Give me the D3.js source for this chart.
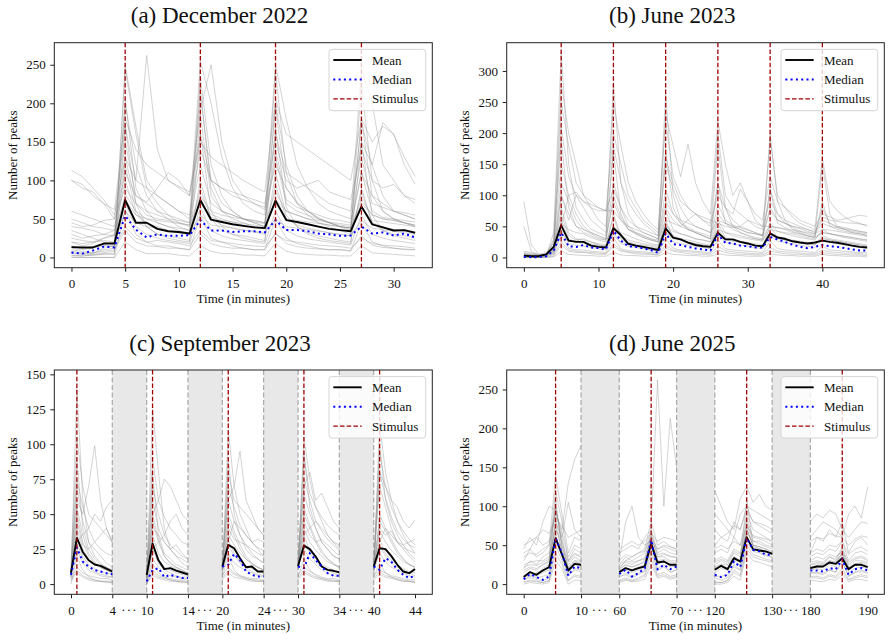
<!DOCTYPE html>
<html>
<head>
<meta charset="utf-8">
<script src="https://cdn.jsdelivr.net/npm/d3@7"></script>
<style>
body { margin: 0; background: #fff; }
svg text { font-family: "Liberation Serif", "DejaVu Serif", serif; fill: #111; }
</style>
</head>
<body>
<div id="chart"></div>
<script>
// ---------- data ----------
// (a) December 2022, one value per minute
const minutesA = d3.range(0, 33);
const stimA = [5, 12, 19, 27];
const meanA = [13.4,13,13,18,18, 74.5,45,45,37,34,33,31, 74.5,49,46,43,41,39,38, 73.7,48.5,46,43,40,37,35.5,34, 66,43,39,35,35.5,32];
const medianA = [6.5,5,9,14,13, 54,36,26,30,28,28,29, 48.5,35,35,33,34,34,32.5, 48.5,35.5,35.5,34,31,30,28,28.5, 40,31,32.5,28.5,31,26];
const tracesA = [
  [[3,2,4,6,8],[245,160,90,70,55,45,40],[235,120,80,60,50,45,40],[240,110,70,55,45,40,35,30],[225,100,60,50,45,40]],
  [[100,95,80,70,62],[180,140,120,110,100,92,85],[150,130,120,110,100,92,85],[205,160,150,140,130,120,110,100],[180,150,170,160,120,95]],
  [[113,105,90,75,55],[130,100,262,140,100,90,80],[190,250,150,100,80,70,62],[120,90,72,60,52,45,40,38],[110,80,70,60,55,50]],
  [[40,38,35,30,28],[82,60,50,45,40,38,35],[70,56,50,46,42,40,38],[75,60,55,50,45,42,40,38],[70,56,50,48,45,42]],
  [[0,0,0,0,0],[62,30,20,15,15,12,10],[55,25,20,15,12,10,10],[50,25,18,15,12,10,10,8],[45,20,15,12,10,10]],
  [[20,18,20,22,20],[205,90,60,45,40,35,30],[185,80,60,50,45,40,38],[195,90,70,60,50,45,40,38],[175,120,80,60,55,50]],
  [[60,55,50,45,40],[110,80,72,90,110,100,80],[160,100,90,85,80,75,70],[150,100,90,95,100,85,80,75],[140,100,90,95,80,75]],
  [[10,8,6,10,12],[40,25,20,22,20,18,15],[35,22,20,18,16,15,14],[30,22,20,18,16,15,14,12],[25,18,16,15,14,12]],
  [[30,25,28,30,35],[150,80,70,60,55,50,45],[120,70,60,55,50,48,45],[140,75,65,60,55,50,48,45],[130,70,65,60,58,55]],
  [[5,4,3,5,4],[250,170,100,80,70,60,50],[255,200,130,90,70,60,55],[250,180,120,90,70,60,55,50],[245,200,120,100,80,70]],
  [[45,40,42,48,50],[90,70,60,55,50,48,45],[80,60,55,52,50,48,45],[85,60,55,50,48,45,42,40],[75,55,50,48,45,42]],
  [[0,0,0,0,0],[20,10,5,5,5,3,2],[15,8,5,5,3,3,2],[18,8,5,4,3,3,2,2],[15,6,5,4,3,2]],
  [[100,90,85,70,50],[170,100,90,80,70,60,55],[140,100,90,80,75,70,65],[160,110,100,90,80,70,65,60],[150,120,175,160,130,105]],
  [[15,12,14,16,15],[120,60,40,30,28,25,22],[100,50,35,30,28,25,22],[110,55,40,32,28,25,22,20],[90,45,35,30,28,25]],
  [[8,6,5,12,15],[200,120,80,60,50,40,35],[210,100,70,60,50,45,40],[200,120,80,60,50,45,40,35],[180,80,60,50,45,40]],
  [[35,30,25,20,18],[60,45,40,38,35,32,30],[55,42,40,38,36,34,32],[50,40,38,36,34,32,30,28],[48,38,36,34,32,30]],
  [[12,10,12,15,14],[70,40,30,25,22,20,18],[65,35,28,24,22,20,18],[60,35,28,24,22,20,18,16],[55,30,25,22,20,18]],
  [[25,22,20,25,30],[100,55,45,40,35,32,30],[90,50,42,38,35,33,30],[95,50,42,38,35,32,30,28],[85,45,40,36,34,32]],
  [[2,2,3,4,5],[170,70,40,30,25,22,20],[160,60,40,30,25,22,20],[170,65,40,30,25,22,20,18],[150,55,35,28,25,22]],
  [[50,45,40,38,35],[75,55,50,48,46,44,42],[70,52,48,46,44,42,40],[70,50,48,46,44,42,40,38],[65,48,46,44,42,40]],
  [[6,5,6,8,10],[35,20,15,14,12,12,10],[30,18,14,12,12,10,10],[32,18,14,12,11,10,10,9],[28,16,13,12,11,10]],
  [[20,15,18,25,28],[130,70,55,50,48,45,42],[220,90,60,55,50,46,44],[130,70,60,55,50,46,44,42],[110,60,52,50,48,46]]
].map(t => t.flat());

// (b) June 2023
const minutesB = d3.range(0, 47);
const stimB = [5, 12, 19, 26, 33, 40];
const meanB = [3,2,2,5,17, 51.5,27,25,25,19,17,16, 47,36,22,19,17,14.5,12, 47,32,29,24,20,18,17, 40,29,29,25,22.5,19,18, 38.6,32,30,26,24,22.5,24, 27,25,23.6,21.5,19,17,16];
const medianB = [1,0.5,0.5,2,11, 40,18,17,20,16,15,13, 43,27,18,17,14.5,12,7.5, 38.6,21.5,20,17,14.5,13,11, 36.5,23.6,22.5,19,18,16,16, 33,29,25,20.4,17,15,17, 20,18,17,15,13,11,11];
const tracesB = [
  [[2,1,1,3,40],[330,150,80,60,45,40,35],[280,120,70,50,40,35,30],[265,100,60,45,40,35,30],[180,80,50,40,35,30,28],[200,90,60,45,40,35,32],[150,70,50,45,40,38,35]],
  [[90,20,5,5,10],[100,60,100,90,80,75,75],[110,80,60,50,45,40,35],[90,70,60,55,50,45,40],[60,55,50,45,40,38,35],[50,48,45,40,38,35,33],[40,38,36,34,32,30,28]],
  [[50,10,3,3,15],[250,180,120,100,90,80,75],[200,150,100,80,60,50,40],[230,180,130,182,120,90,70],[220,150,100,120,90,70,60],[130,90,80,70,60,55,50],[70,65,60,62,65,68,66]],
  [[5,3,2,2,8],[60,30,25,22,20,18,16],[50,30,22,20,18,16,14],[55,35,30,28,25,22,20],[45,30,28,26,24,22,20],[40,32,30,28,26,24,22],[30,28,26,24,22,20,18]],
  [[0,0,0,0,2],[20,10,8,8,6,5,5],[18,10,8,6,5,5,4],[15,10,8,6,5,5,4],[12,8,6,5,5,4,4],[10,8,6,5,5,4,4],[8,6,5,5,4,4,3]],
  [[8,6,5,6,25],[150,100,70,50,40,35,30],[120,80,50,40,35,30,25],[160,120,90,80,70,60,55],[100,80,70,110,90,60,50],[90,70,60,55,50,45,40],[60,55,50,48,45,42,40]],
  [[3,2,2,5,20],[210,130,100,80,60,50,40],[180,120,90,70,55,45,35],[150,110,80,60,50,45,40],[120,80,60,50,45,40,35],[110,70,55,48,42,38,35],[80,55,48,45,42,40,38]],
  [[10,8,5,4,6],[40,25,28,30,25,20,18],[35,25,20,18,15,12,10],[40,30,28,25,22,20,18],[35,28,26,24,22,20,18],[38,30,28,26,24,22,20],[32,28,26,24,22,20,18]],
  [[1,1,1,2,15],[100,70,50,45,40,35,30],[90,60,45,40,35,30,28],[80,60,50,45,40,35,30],[70,55,50,45,40,38,35],[75,60,55,50,48,45,42],[65,60,58,56,55,54,52]],
  [[4,2,2,4,30],[280,200,150,100,80,60,50],[250,180,120,90,70,55,45],[220,130,100,80,70,60,50],[200,100,80,70,60,50,45],[190,100,80,65,55,50,45],[160,90,75,65,58,55,50]],
  [[2,1,1,3,10],[80,40,30,28,25,22,20],[70,35,28,25,22,20,18],[75,45,38,35,30,28,25],[60,40,35,32,30,28,26],[55,42,38,35,32,30,28],[45,38,35,32,30,28,26]],
  [[6,5,4,8,12],[50,100,105,90,85,80,75],[75,60,50,45,40,35,30],[60,55,50,60,70,65,60],[55,50,48,50,60,55,50],[50,48,46,44,42,40,38],[45,44,42,40,38,36,34]],
  [[0,0,0,0,1],[10,5,4,3,3,2,2],[8,4,3,3,2,2,2],[8,5,4,3,3,2,2],[6,4,3,3,2,2,2],[6,4,3,3,2,2,2],[5,3,3,2,2,2,1]],
  [[5,4,3,5,18],[120,90,60,45,38,32,28],[100,65,45,38,32,28,25],[110,70,55,48,42,38,34],[85,60,52,48,44,40,36],[80,60,55,50,46,42,38],[55,50,48,46,44,42,40]],
  [[3,2,2,4,15],[70,35,28,25,22,20,18],[65,32,25,22,20,18,16],[60,32,28,25,22,20,18],[55,32,28,25,22,20,18],[50,32,28,26,24,22,20],[35,30,28,26,24,22,20]],
  [[1,1,1,2,6],[35,15,12,12,10,9,8],[32,14,11,10,9,8,7],[30,15,12,11,10,9,8],[28,14,12,11,10,9,8],[26,14,12,11,10,9,8],[18,12,11,10,9,8,8]],
  [[2,1,1,3,25],[190,80,50,40,35,30,28],[170,70,45,38,32,28,25],[175,80,55,45,40,35,30],[120,55,45,40,36,32,30],[110,55,48,42,38,35,32],[90,50,45,42,40,38,36]],
  [[4,3,3,5,12],[55,45,40,38,32,28,25],[50,40,35,30,26,22,20],[50,42,38,34,30,28,25],[45,40,38,35,32,30,28],[45,42,40,38,35,32,30],[40,38,36,34,32,30,28]],
  [[0,0,0,1,4],[25,12,10,9,8,7,6],[22,12,9,8,7,6,5],[20,12,10,9,8,7,6],[18,11,9,8,7,6,6],[16,10,9,8,7,6,6],[12,9,8,7,7,6,5]],
  [[6,4,3,4,10],[45,22,20,18,16,14,12],[40,22,18,16,14,12,10],[42,25,22,20,18,16,14],[38,24,22,20,18,16,14],[35,26,24,22,20,18,16],[28,24,22,20,18,16,15]]
].map(t => t.flat());

// (c) September 2023, five recorded windows of 4 minutes
const segStartsC = [0, 10, 20, 30, 40];
const segStepsC = [0, 0.57, 1.14, 1.71, 2.29, 2.86, 3.43, 4];
const stimC = [0.57, 10.57, 20.57, 30.57, 40.57];
const meanC = [[8,33,23,17,14,13,11,9],[6.6,29,17,10.7,11.4,9.7,8.3,7],[12.6,28,25.6,18.5,12,12.6,9,9],[13,27.5,25,19.7,12.6,10.2,9.5,8.5],[12.6,25.6,25,20,13.8,9,7.8,10.7]];
const medianC = [[6.6,26,16,12.5,10,9,7.8,7],[2,10,11.4,5,6.6,5.4,4.3,4.3],[12.6,13.8,21.6,17.3,9,6.6,5.4,5.4],[12.6,11.4,22,17.3,12.6,7.8,6,6],[12.6,10.2,18.5,16,10.2,6.6,4.3,6]];
const tracesC = [
  [[5,140,60,30,20,15,12,10],[3,125,80,40,25,20,15,12],[8,110,70,50,40,30,25,20],[10,105,75,55,45,35,30,25],[8,115,80,60,45,35,28,22]],
  [[10,60,50,70,99,60,40,30],[5,50,60,75,70,60,50,45],[15,60,70,95,60,50,40,35],[12,70,80,60,65,55,45,40],[15,80,70,60,55,45,40,46]],
  [[0,20,10,5,3,2,2,1],[0,15,8,5,3,2,2,1],[5,20,10,6,4,3,2,2],[5,18,10,6,4,3,2,2],[5,15,8,5,3,2,2,1]],
  [[8,50,30,20,15,12,10,8],[5,45,30,20,15,12,10,8],[12,45,35,25,18,14,12,10],[14,50,40,30,22,18,15,12],[12,45,38,30,22,18,14,12]],
  [[5,90,40,25,18,14,12,10],[2,80,35,22,18,14,12,10],[10,90,50,35,25,20,18,15],[12,95,55,40,30,25,20,18],[10,100,60,45,35,28,22,18]],
  [[10,30,35,40,50,45,55,60],[5,25,30,35,45,50,40,35],[12,30,45,40,35,30,32,30],[15,35,40,45,40,35,30,28],[12,30,40,35,30,28,30,32]],
  [[3,8,5,3,2,2,1,1],[1,6,4,3,2,2,1,1],[3,8,5,4,3,2,2,2],[3,8,6,4,3,2,2,2],[3,7,5,4,3,2,2,1]],
  [[12,70,45,30,25,20,15,12],[8,60,40,30,25,20,18,15],[15,60,45,35,28,22,18,15],[18,65,50,40,30,25,20,18],[15,70,55,40,30,25,20,16]],
  [[6,25,15,10,8,6,5,5],[2,18,12,8,6,5,4,4],[10,22,15,12,10,8,6,5],[12,25,18,14,10,8,6,5],[10,22,16,12,10,8,6,5]],
  [[15,105,70,50,45,40,35,30],[10,90,60,48,40,35,30,28],[14,80,60,55,50,45,40,35],[16,90,65,55,48,42,38,35],[14,95,70,55,45,38,32,28]],
  [[4,12,8,6,5,4,4,3],[2,10,6,5,4,3,3,3],[6,12,8,6,5,4,4,3],[6,12,9,7,5,4,4,3],[6,10,8,6,5,4,3,3]],
  [[8,40,25,18,14,12,10,9],[4,35,22,16,13,11,9,8],[12,35,28,22,18,15,12,10],[14,40,30,24,20,16,14,12],[12,38,30,24,20,16,14,12]],
  [[6,55,35,22,16,12,10,8],[3,50,32,20,15,12,10,8],[10,50,38,28,20,15,12,10],[12,55,42,32,24,18,14,12],[10,50,40,32,24,18,14,12]],
  [[4,30,18,12,9,7,6,5],[1,25,15,10,8,6,5,5],[8,28,20,15,12,9,7,6],[10,30,22,16,12,10,8,6],[8,28,20,15,12,10,8,6]],
  [[10,75,55,40,30,25,22,20],[6,70,50,35,28,24,20,18],[12,70,55,42,35,30,26,24],[14,75,60,45,38,32,28,24],[12,80,62,48,38,32,28,26]],
  [[2,10,6,4,3,2,2,2],[0,8,5,4,3,2,2,2],[4,10,7,5,4,3,3,2],[4,10,7,5,4,3,3,2],[4,9,6,5,4,3,2,2]],
  [[7,45,28,25,30,35,40,30],[4,40,35,30,25,28,22,18],[10,40,32,30,28,25,22,20],[12,45,35,30,32,28,24,20],[10,40,35,38,30,26,24,22]],
  [[9,35,20,14,11,9,8,7],[5,30,18,12,10,8,7,6],[11,32,22,16,13,11,9,8],[13,35,24,18,14,12,10,8],[11,32,22,17,14,11,9,8]]
];

// (d) June 2025, four recorded windows of 10 minutes
const segStartsD = [0, 60, 120, 180];
const segStepsD = [0, 1.11, 2.22, 3.33, 4.44, 5.56, 6.67, 7.78, 8.89, 10];
const stimD = [5.56, 65.56, 125.56, 185.56];
const meanD = [[9,15.4,12,17.5,21.8,59,38,17.5,26,24.8],[15.4,20.5,17.5,20.5,22.6,51.7,27.8,29,24.8,24.8],[18.4,23.5,19.2,33.3,29,60.3,44.9,43.2,41.9,38.9],[20.5,22.6,22.6,27.8,26,33.3,19.2,24.8,24.8,21.8]];
const medianD = [[6.4,13,9,5.5,9.8,59,40,10.7,22.6,20.5],[13,18.4,9.8,14,20.5,56.8,19.2,24.8,19.2,22.6],[12,9,12,29,21.8,59,44,42,37.6,37.6],[17.5,17.5,16.2,20.5,19.2,32,12,19.2,20.5,17.5]];
const tracesD = [
  [[40,45,60,50,55,90,70,130,160,178],[40,45,50,45,60,70,262,100,213,150],[120,100,80,70,110,125,105,115,100,95],[60,70,80,75,70,60,90,100,85,125]],
  [[10,15,12,20,25,100,50,20,30,25],[15,20,18,22,25,60,30,28,25,24],[20,25,20,35,30,110,50,45,42,40],[20,22,22,30,28,40,20,25,25,22]],
  [[5,8,6,4,8,60,40,10,20,18],[10,12,8,12,18,50,20,25,15,18],[8,5,8,25,18,60,45,42,38,35],[15,15,14,18,16,30,10,16,18,15]],
  [[20,30,25,35,40,120,80,30,45,40],[25,35,30,35,40,70,40,45,40,38],[40,45,40,60,50,90,70,65,60,55],[35,40,38,45,42,55,30,40,42,38]],
  [[0,2,1,0,2,30,20,0,5,5],[2,5,3,4,6,25,8,10,6,8],[0,0,2,10,5,40,30,28,25,22],[5,4,3,6,5,12,3,6,6,4]],
  [[30,45,35,40,50,140,90,40,60,55],[20,30,35,40,45,80,50,55,48,45],[50,60,55,80,70,100,80,75,70,65],[40,60,55,70,60,80,40,55,60,50]],
  [[8,12,10,15,18,80,60,15,25,22],[12,18,15,18,20,55,25,30,22,24],[15,20,18,30,25,70,50,48,45,40],[18,20,18,25,22,35,15,20,22,20]],
  [[15,20,18,25,30,110,45,25,35,30],[18,25,22,25,30,65,35,35,30,30],[25,30,25,40,35,80,55,52,48,45],[25,28,26,35,30,45,22,30,30,28]],
  [[45,60,50,80,100,95,60,105,70,60],[30,80,100,60,50,55,45,50,48,45],[90,80,70,60,90,100,95,90,85,80],[80,90,85,95,90,70,60,70,80,78]],
  [[3,5,4,2,5,50,30,5,12,10],[5,8,5,8,12,40,12,15,10,12],[3,2,5,18,12,50,38,35,32,30],[10,10,8,12,10,20,6,10,12,10]],
  [[25,28,30,30,35,70,55,30,40,35],[22,28,25,30,32,48,35,38,35,34],[30,35,30,45,40,65,55,55,50,48],[30,35,32,38,35,42,28,34,36,32]],
  [[12,10,15,18,22,85,40,20,28,28],[14,20,18,20,24,58,28,30,25,26],[18,22,20,32,28,75,48,46,42,40],[22,24,22,28,26,38,18,24,26,24]],
  [[18,22,20,25,28,75,42,22,30,30],[20,24,22,25,28,52,30,32,28,28],[22,26,24,35,30,70,50,48,45,42],[25,26,25,30,28,40,20,26,28,26]],
  [[6,10,8,10,12,65,35,12,18,16],[8,14,10,14,16,45,18,22,16,18],[10,10,12,22,18,55,42,40,36,34],[14,14,12,18,15,28,10,15,16,14]],
  [[35,40,38,45,50,95,65,35,50,45],[30,38,35,40,42,62,45,48,45,42],[45,50,45,55,50,75,62,60,58,55],[40,45,42,50,48,55,38,45,48,42]],
  [[2,4,3,2,4,40,25,4,10,8],[4,6,4,6,10,32,10,12,8,10],[2,2,4,15,10,45,35,32,30,28],[8,8,6,10,8,16,5,8,10,8]],
  [[22,25,24,28,32,100,50,28,38,35],[25,30,28,30,34,60,38,40,36,35],[28,32,28,42,38,85,60,58,55,50],[28,30,28,35,32,48,25,32,34,30]],
  [[50,55,60,70,65,85,75,60,65,70],[45,50,55,50,55,65,55,60,58,55],[70,60,65,75,70,95,80,78,75,70],[55,60,58,65,62,60,50,58,62,60]]
];

// ---------- drawing ----------
const W = 892, H = 640;
const svg = d3.select("#chart").append("svg").attr("width", W).attr("height", H);

// compressed axis for broken panels: real minute breakpoints -> pixels
function brokenScale(breaks, gapUnits, px0, px1) {
  const comp = [];
  let u = 0;
  breaks.forEach((b, i) => {
    if (i > 0) u += (i % 2 === 1) ? (b - breaks[i - 1]) : gapUnits;
    comp.push(u);
  });
  const c = d3.scaleLinear().domain([0, u]).range([px0, px1]);
  return d3.scaleLinear().domain(breaks).range(comp.map(c));
}

function drawPanel(p) {
  const x = p.x;
  const y = d3.scaleLinear().domain(p.yDomain).range([p.bottom, p.top]);
  const g = svg.append("g");

  svg.append("clipPath").attr("id", "clip" + p.id)
    .append("rect").attr("x", p.left).attr("y", p.top)
    .attr("width", p.right - p.left).attr("height", p.bottom - p.top);
  const plot = g.append("g").attr("clip-path", "url(#clip" + p.id + ")");

  // gaps between recorded windows
  (p.gaps || []).forEach(gp => {
    plot.append("rect").attr("x", x(gp[0])).attr("y", p.top)
      .attr("width", x(gp[1]) - x(gp[0])).attr("height", p.bottom - p.top)
      .attr("fill", "#e8e8e8");
    gp.forEach(v => {
      plot.append("line").attr("x1", x(v)).attr("x2", x(v))
        .attr("y1", p.top).attr("y2", p.bottom)
        .attr("stroke", "#a8a8a8").attr("stroke-width", 1.2)
        .attr("stroke-dasharray", "5,2.5");
    });
  });

  const line = d3.line().x(d => x(d[0])).y(d => y(d[1]));
  const segs = vals => vals.map((s, i) => p.times[i].map((t, j) => [t, s[j]]));

  p.traces.forEach(tr => {
    segs(tr).forEach(s => {
      plot.append("path").datum(s).attr("d", line)
        .attr("fill", "none").attr("stroke", "#8c8c8c")
        .attr("stroke-opacity", 0.42).attr("stroke-width", 0.9);
    });
  });

  segs(p.mean).forEach(s => {
    plot.append("path").datum(s).attr("d", line)
      .attr("fill", "none").attr("stroke", "#000").attr("stroke-width", 1.9)
      .attr("stroke-linejoin", "round");
  });
  segs(p.median).forEach(s => {
    plot.append("path").datum(s).attr("d", line)
      .attr("fill", "none").attr("stroke", "#0000ff").attr("stroke-width", 2)
      .attr("stroke-dasharray", "2,3.3");
  });

  p.stim.forEach(v => {
    plot.append("line").attr("x1", x(v)).attr("x2", x(v))
      .attr("y1", p.top).attr("y2", p.bottom)
      .attr("stroke", "#a00000").attr("stroke-width", 1.3)
      .attr("stroke-dasharray", "4.5,2.2");
  });

  // frame
  g.append("rect").attr("x", p.left).attr("y", p.top)
    .attr("width", p.right - p.left).attr("height", p.bottom - p.top)
    .attr("fill", "none").attr("stroke", "#222").attr("stroke-width", 1);

  // axes
  const xa = g.append("g").attr("transform", `translate(0,${p.bottom})`)
    .call(d3.axisBottom(x).tickValues(p.xTicks).tickSize(4).tickPadding(7).tickFormat(d3.format("d")));
  const ya = g.append("g").attr("transform", `translate(${p.left},0)`)
    .call(d3.axisLeft(y).tickValues(p.yTicks).tickSize(4).tickPadding(4.6));
  [xa, ya].forEach(a => {
    a.select(".domain").remove();
    a.selectAll(".tick line").attr("stroke", "#222");
    a.selectAll(".tick text").attr("font-size", 13).attr("fill", "#111")
      .attr("font-family", '"Liberation Serif", serif');
  });

  (p.gaps || []).forEach(gp => {
    g.append("text").attr("x", (x(gp[0]) + x(gp[1])) / 2).attr("y", p.bottom + 19.7)
      .attr("text-anchor", "middle").attr("font-size", 13)
      .attr("letter-spacing", 1.2).text("\u00b7\u00b7\u00b7");
  });

  g.append("text").attr("x", (p.left + p.right) / 2).attr("y", p.bottom + 35.6)
    .attr("text-anchor", "middle").attr("font-size", 13).text("Time (in minutes)");
  g.append("text")
    .attr("transform", `translate(${p.ylabX},${(p.top + p.bottom) / 2}) rotate(-90)`)
    .attr("text-anchor", "middle").attr("dominant-baseline", "central")
    .attr("font-size", 13).text("Number of peaks");
  g.append("text").attr("x", p.titleX).attr("y", p.titleY)
    .attr("text-anchor", "middle").attr("font-size", 23).text(p.title);

  // legend
  const lx = p.right - 103.3, ly = p.top + 6.6;
  const lg = g.append("g").attr("transform", `translate(${lx},${ly})`);
  lg.append("rect").attr("width", 96.7).attr("height", 61.4).attr("rx", 3)
    .attr("fill", "#fff").attr("fill-opacity", 0.8)
    .attr("stroke", "#d6d6d6").attr("stroke-width", 1);
  const items = [
    { label: "Mean", stroke: "#000", w: 1.9, dash: null },
    { label: "Median", stroke: "#0000ff", w: 2, dash: "2,3.3" },
    { label: "Stimulus", stroke: "#a00000", w: 1.3, dash: "4.5,2.2" }
  ];
  items.forEach((it, i) => {
    const yy = 10.7 + i * 19.4;
    lg.append("line").attr("x1", 4.3).attr("x2", 32.7).attr("y1", yy).attr("y2", yy)
      .attr("stroke", it.stroke).attr("stroke-width", it.w)
      .attr("stroke-dasharray", it.dash);
    lg.append("text").attr("x", 43).attr("y", yy).attr("dy", "0.35em")
      .attr("font-size", 13).text(it.label);
  });
}

const one = arr => [arr];

drawPanel({
  id: "a", title: "(a) December 2022", titleX: 219.5, titleY: 23.3,
  left: 54.3, right: 432.3, top: 42.7, bottom: 267.7, ylabX: 12,
  x: d3.scaleLinear().domain([-1.6, 33.6]).range([54.3, 432.3]),
  yDomain: [-13.3, 278.6],
  xTicks: [0, 5, 10, 15, 20, 25, 30], yTicks: [0, 50, 100, 150, 200, 250],
  times: one(minutesA), traces: tracesA.map(one),
  mean: one(meanA), median: one(medianA), stim: stimA
});

drawPanel({
  id: "b", title: "(b) June 2023", titleX: 672.3, titleY: 23.3,
  left: 506.7, right: 884.3, top: 42.7, bottom: 267.7, ylabX: 464.3,
  x: d3.scaleLinear().domain([-2.3, 48.3]).range([506.7, 884.3]),
  yDomain: [-16.5, 345.5],
  xTicks: [0, 10, 20, 30, 40], yTicks: [0, 50, 100, 150, 200, 250, 300],
  times: one(minutesB), traces: tracesB.map(one),
  mean: one(meanB), median: one(medianB), stim: stimB
});

const breaksC = [0, 4, 10, 14, 20, 24, 30, 34, 40, 44];
drawPanel({
  id: "c", title: "(c) September 2023", titleX: 220, titleY: 350.7,
  left: 54.3, right: 432.3, top: 370, bottom: 594.3, ylabX: 12,
  x: brokenScale(breaksC, 10 / 3, 71, 415),
  yDomain: [-7.3, 153.1],
  xTicks: breaksC, yTicks: [0, 25, 50, 75, 100, 125, 150],
  gaps: [[4, 10], [14, 20], [24, 30], [34, 40]],
  times: segStartsC.map(s => segStepsC.map(t => s + t)), traces: tracesC,
  mean: meanC, median: medianC, stim: stimC
});

const breaksD = [0, 10, 60, 70, 120, 130, 180, 190];
drawPanel({
  id: "d", title: "(d) June 2025", titleX: 672.3, titleY: 350.7,
  left: 506.7, right: 884.3, top: 370, bottom: 594.3, ylabX: 464.3,
  x: brokenScale(breaksD, 20 / 3, 523.7, 867.7),
  yDomain: [-13.1, 275],
  xTicks: breaksD, yTicks: [0, 50, 100, 150, 200, 250],
  gaps: [[10, 60], [70, 120], [130, 180]],
  times: segStartsD.map(s => segStepsD.map(t => s + t)), traces: tracesD,
  mean: meanD, median: medianD, stim: stimD
});
</script>
</body>
</html>
